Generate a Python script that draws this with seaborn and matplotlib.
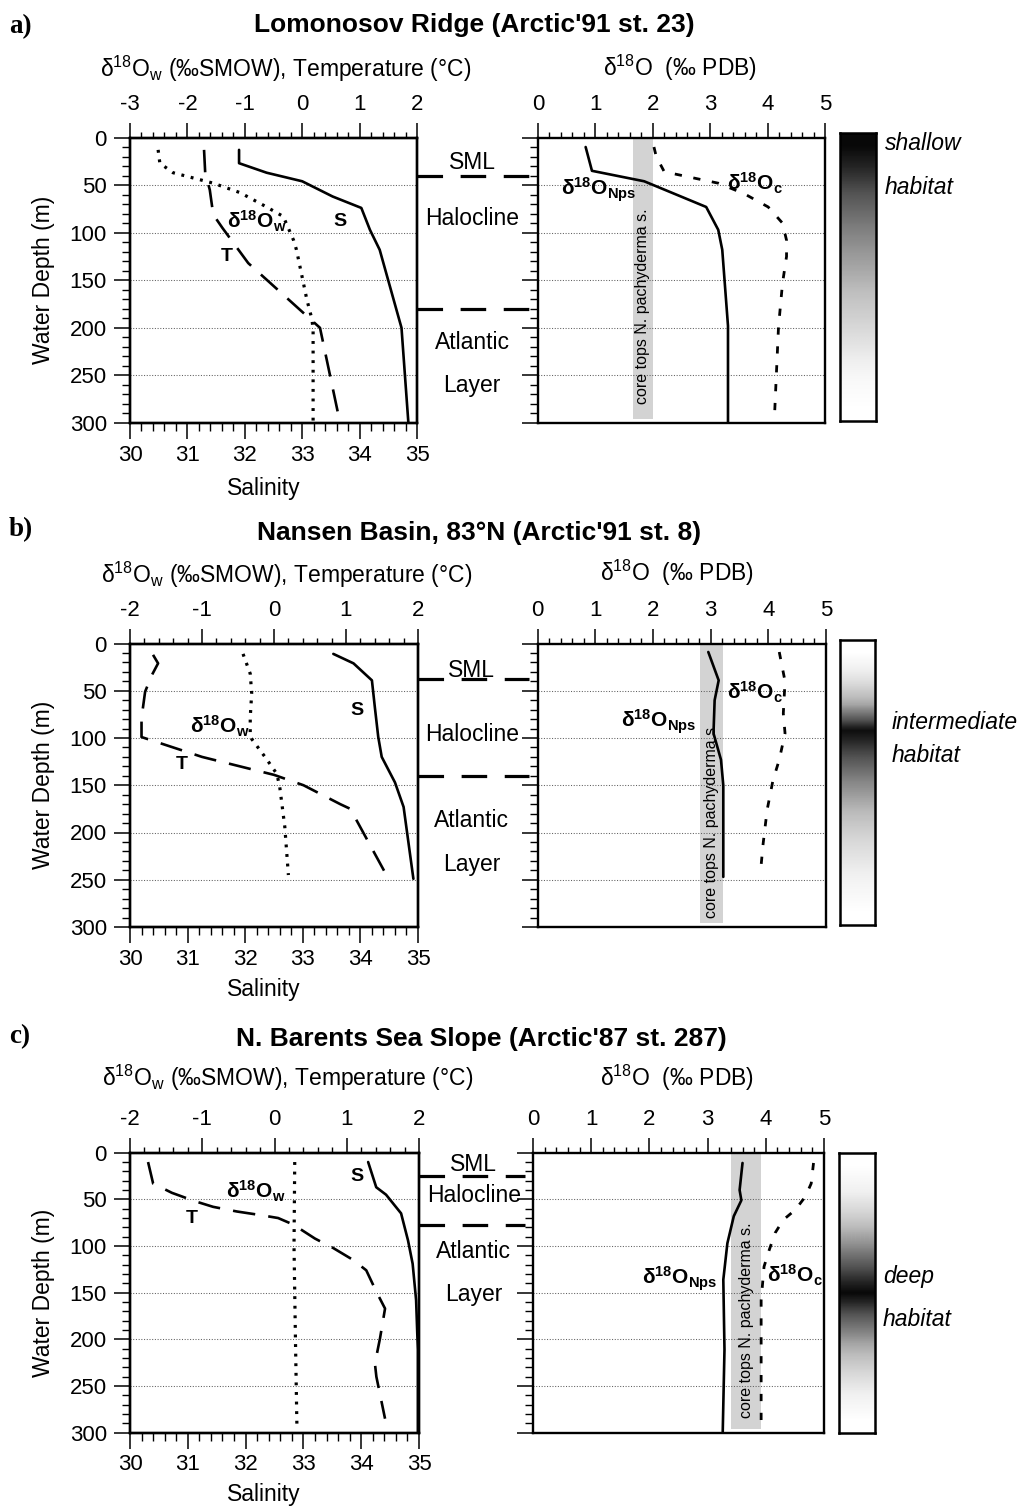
import numpy as np
import matplotlib
matplotlib.use("Agg")
import matplotlib.pyplot as plt
from matplotlib.ticker import MultipleLocator
import seaborn as sns

sns.set_theme(style="ticks")
plt.rcParams["font.family"] = ["Liberation Sans", "DejaVu Sans"]
plt.rcParams["mathtext.fontset"] = "custom"
plt.rcParams["mathtext.rm"] = "Liberation Sans"
plt.rcParams["mathtext.it"] = "Liberation Sans:italic"
plt.rcParams["mathtext.bf"] = "Liberation Sans:bold"
plt.rcParams["axes.unicode_minus"] = False
for key in ["text.color", "axes.labelcolor", "xtick.color", "ytick.color", "axes.edgecolor"]:
    plt.rcParams[key] = "black"

# ---------------- data ----------------
# a) Lomonosov Ridge (Arctic'91 st. 23)
a_sal_depth = [13, 27, 37, 46, 62, 74, 97, 118, 200, 300]
a_sal = [31.9, 31.9, 32.38, 33.0, 33.53, 34.03, 34.18, 34.35, 34.73, 34.85]
a_temp_depth = [13, 37, 55, 81, 95, 132, 181, 200, 300]
a_temp = [-1.71, -1.69, -1.61, -1.55, -1.39, -0.94, -0.04, 0.31, 0.66]
a_d18ow_depth = [13, 27, 37, 48, 58, 73, 83, 108, 118, 170, 191, 202, 300]
a_d18ow = [-2.51, -2.48, -2.25, -1.55, -1.08, -0.62, -0.33, -0.15, -0.10, 0.08, 0.17, 0.19, 0.19]
a_nps_depth = [10, 35, 46, 73, 97, 118, 198, 299]
a_nps = [0.83, 0.94, 1.85, 2.93, 3.14, 3.21, 3.31, 3.31]
a_oc_depth = [10, 20, 36, 48, 59, 73, 90, 108, 125, 153, 199, 293]
a_oc = [2.02, 2.06, 2.2, 3.14, 3.59, 4.01, 4.26, 4.33, 4.33, 4.26, 4.19, 4.12]
a_coretop = [1.65, 2.0]
a_bounds = [40, 180]
a_habitat = [0.97, 0.85, 0.72, 0.6, 0.5, 0.42, 0.33, 0.25, 0.15, 0.05, 0.0]

# b) Nansen Basin, 83°N (Arctic'91 st. 8)
b_sal_depth = [11, 21, 39, 67, 99, 120, 147, 173, 249]
b_sal = [33.53, 33.88, 34.2, 34.25, 34.31, 34.37, 34.6, 34.75, 34.92]
b_temp_depth = [12, 21, 34, 51, 79, 99, 120, 139, 150, 170, 175, 249]
b_temp = [-1.68, -1.61, -1.70, -1.79, -1.84, -1.84, -1.0, 0.0, 0.41, 0.92, 1.06, 1.59]
b_d18ow_depth = [11, 32, 53, 78, 99, 120, 138, 152, 194, 245]
b_d18ow = [-0.43, -0.33, -0.31, -0.33, -0.33, -0.125, 0.04, 0.08, 0.15, 0.2]
b_nps_depth = [9, 39, 60, 95, 123, 150, 194, 247]
b_nps = [2.96, 3.14, 3.07, 3.05, 3.18, 3.22, 3.22, 3.22]
b_oc_depth = [9, 40, 74, 95, 123, 145, 176, 212, 245]
b_oc = [4.19, 4.29, 4.26, 4.29, 4.19, 4.08, 3.98, 3.91, 3.86]
b_coretop = [2.82, 3.21]
b_bounds = [38, 140]
b_habitat = [0.0, 0.2, 0.45, 0.95, 0.75, 0.55, 0.4, 0.28, 0.18, 0.08, 0.0]

# c) N. Barents Sea Slope (Arctic'87 st. 287)
c_sal_depth = [10, 37, 45, 65, 94, 119, 158, 211, 299]
c_sal = [34.12, 34.26, 34.43, 34.69, 34.81, 34.89, 34.95, 34.98, 34.98]
c_temp_depth = [10, 33, 43, 52, 58, 63, 67, 70, 77, 92, 102, 115, 126, 149, 167, 199, 226, 240, 285]
c_temp = [-1.75, -1.68, -1.42, -1.10, -0.85, -0.52, -0.18, 0.05, 0.26, 0.56, 0.81, 1.09, 1.27,
          1.41, 1.53, 1.46, 1.39, 1.41, 1.53]
c_d18ow_depth = [10, 100, 200, 292]
c_d18ow = [0.28, 0.27, 0.29, 0.31]
c_nps_depth = [11, 40, 51, 68, 97, 136, 211, 299]
c_nps = [3.60, 3.55, 3.58, 3.45, 3.34, 3.27, 3.29, 3.26]
c_oc_depth = [11, 33, 47, 61, 72, 86, 104, 122, 158, 211, 290]
c_oc = [4.82, 4.78, 4.68, 4.51, 4.30, 4.16, 4.06, 3.97, 3.92, 3.92, 3.92]
c_coretop = [3.40, 3.92]
c_bounds = [25, 77]
c_habitat = [0.0, 0.12, 0.3, 0.5, 0.75, 0.97, 0.7, 0.45, 0.28, 0.12, 0.0]

layer_names = ["SML", "Halocline", "Atlantic", "Layer"]
titles = ["Lomonosov Ridge (Arctic'91 st. 23)",
          "Nansen Basin, 83°N (Arctic'91 st. 8)",
          "N. Barents Sea Slope (Arctic'87 st. 287)"]
panel_tags = ["a)", "b)", "c)"]
habitat_words = [["shallow", "habitat"], ["intermediate", "habitat"], ["deep", "habitat"]]
top_ranges = [(-3, 2), (-2, 2), (-2, 2)]

# ---------------- figure ----------------
W, H = 1023, 1508
fig = plt.figure(figsize=(W / 100, H / 100), dpi=100)


def rect(x0, x1, y0, y1):
    return [x0 / W, 1 - y1 / H, (x1 - x0) / W, (y1 - y0) / H]


def ftext(x, y, s, **kw):
    return fig.text(x / W, 1 - y / H, s, **kw)


SOLID = dict(lw=1.9, linestyle="-")
LONG_DASH = dict(lw=1.9, linestyle=(0, (8.5, 5)))
DOTTED = dict(lw=2.3, linestyle=(0, (0.9, 2.1)))
SHORT_DASH = dict(lw=2.0, linestyle=(0, (2.6, 4.2)))
TICK = 16
LABEL = 16.5
CURVE_LABEL = 15


def profile(ax, values, depth, style):
    sns.lineplot(x=np.asarray(values, float), y=np.asarray(depth, float), ax=ax,
                 orient="y", sort=False, estimator=None, errorbar=None,
                 color="black", legend=False, **style)


def depth_axis(ax, show_labels):
    ax.set_ylim(300, 0)
    ax.yaxis.set_major_locator(MultipleLocator(50))
    ax.yaxis.set_minor_locator(MultipleLocator(10))
    ax.tick_params(axis="y", which="major", direction="out", length=11.5, width=1.1,
                   pad=5.2, labelsize=TICK, left=True, right=False, labelleft=show_labels)
    ax.tick_params(axis="y", which="minor", direction="out", length=5.5, width=1.0,
                   left=True, right=False)
    ax.grid(axis="y", which="major", color="#606060", lw=0.75, linestyle=(0, (1, 1.6)))
    ax.grid(axis="x", visible=False)
    for sp in ax.spines.values():
        sp.set_linewidth(1.7)
        sp.set_color("black")
        sp.set_visible(True)
    ax.set_xlabel("")
    ax.set_ylabel("")


def top_axis(ax, lo, hi):
    ax.set_xlim(lo, hi)
    ax.xaxis.set_major_locator(MultipleLocator(1))
    ax.xaxis.set_minor_locator(MultipleLocator(0.2))
    ax.xaxis.tick_top()
    ax.tick_params(axis="x", which="major", direction="out", length=10.5, width=1.1,
                   pad=6.0, labelsize=TICK, top=True, bottom=False,
                   labeltop=True, labelbottom=False)
    ax.tick_params(axis="x", which="minor", direction="out", length=4.5, width=1.0,
                   top=True, bottom=False)
    ax.set_xlabel("")
    ax.set_ylabel("")


panels = [
    dict(sal=(a_sal, a_sal_depth), temp=(a_temp, a_temp_depth), d18ow=(a_d18ow, a_d18ow_depth),
         nps=(a_nps, a_nps_depth), oc=(a_oc, a_oc_depth), core=a_coretop, bounds=a_bounds,
         habitat=a_habitat),
    dict(sal=(b_sal, b_sal_depth), temp=(b_temp, b_temp_depth), d18ow=(b_d18ow, b_d18ow_depth),
         nps=(b_nps, b_nps_depth), oc=(b_oc, b_oc_depth), core=b_coretop, bounds=b_bounds,
         habitat=b_habitat),
    dict(sal=(c_sal, c_sal_depth), temp=(c_temp, c_temp_depth), d18ow=(c_d18ow, c_d18ow_depth),
         nps=(c_nps, c_nps_depth), oc=(c_oc, c_oc_depth), core=c_coretop, bounds=c_bounds,
         habitat=c_habitat),
]

# pixel layout of each panel
layout = [
    dict(box_y=(137.5, 423), left_x=(130, 417), right_x=(538, 825), cbar=(840, 876, 133, 421),
         title=(474, 32), tag_y=33, top_label_y=77, right_label_y=76, sal_y=488,
         left_top_cx=286, right_top_cx=680,
         s_lab=(33.66, 88), w_lab=(32.21, 88), t_lab=(31.69, 125),
         nps_lab=(1.71, 55), oc_lab=(3.30, 48), band_text_depth=280,
         mid_x=0.455, mid_depths=[26, 85, 215, 261],
         hab_x=885, hab_y=[144, 187]),
    dict(box_y=(643.5, 927), left_x=(130, 418), right_x=(537.5, 826), cbar=(840, 875, 640, 925),
         title=(479, 540), tag_y=536, top_label_y=583, right_label_y=581, sal_y=990,
         left_top_cx=287, right_top_cx=677,
         s_lab=(33.94, 71), w_lab=(31.55, 88), t_lab=(30.89, 128),
         nps_lab=(2.75, 83), oc_lab=(3.28, 52), band_text_depth=290,
         mid_x=0.45, mid_depths=[29, 96, 187, 234],
         hab_x=892, hab_y=[722, 756]),
    dict(box_y=(1152.7, 1432.7), left_x=(130, 419), right_x=(533, 824), cbar=(839, 875, 1152.7, 1432.7),
         title=(481, 1046), tag_y=1043, top_label_y=1086, right_label_y=1086, sal_y=1495,
         left_top_cx=288, right_top_cx=677,
         s_lab=(33.92, 26), w_lab=(32.18, 41), t_lab=(31.07, 70),
         nps_lab=(3.17, 135), oc_lab=(4.02, 131), band_text_depth=284,
         mid_x=0.48, mid_depths=[13, 46, 106, 152],
         hab_x=883, hab_y=[1277, 1320]),
]

w_label = r"$\mathrm{\delta^{18}O_{w}}$ (‰SMOW), Temperature (°C)"
pdb_label = r"$\mathrm{\delta^{18}O}$  (‰ PDB)"

for i, (p, L) in enumerate(zip(panels, layout)):
    y0, y1 = L["box_y"]

    # ---- left panel: salinity (bottom) / temperature & d18O water (top)
    ax = fig.add_axes(rect(L["left_x"][0], L["left_x"][1], y0, y1))
    profile(ax, *p["sal"], SOLID)
    ax.set_xlim(30, 35)
    ax.xaxis.set_major_locator(MultipleLocator(1))
    ax.xaxis.set_minor_locator(MultipleLocator(0.2))
    ax.tick_params(axis="x", which="major", direction="out", length=11.5, width=1.1, pad=4.0,
                   labelsize=TICK, top=False, bottom=True)
    ax.tick_params(axis="x", which="minor", direction="out", length=6, width=1.0,
                   top=False, bottom=True)
    depth_axis(ax, True)

    axt = ax.twiny()
    profile(axt, *p["temp"], LONG_DASH)
    profile(axt, *p["d18ow"], DOTTED)
    top_axis(axt, *top_ranges[i])
    axt.set_ylim(300, 0)
    for sp in axt.spines.values():
        sp.set_linewidth(1.7)

    ax.text(*L["s_lab"], "S", ha="center", va="center", fontsize=14, fontweight="bold")
    ax.text(*L["t_lab"], "T", ha="center", va="center", fontsize=14, fontweight="bold")
    ax.text(*L["w_lab"], r"$\mathbf{\delta^{18}O_{w}}$", ha="center", va="center",
            fontsize=CURVE_LABEL)

    # ---- right panel: d18O of N. pachyderma and equilibrium calcite
    axr = fig.add_axes(rect(L["right_x"][0], L["right_x"][1], y0, y1))
    axr.fill_betweenx([0, 296], p["core"][0], p["core"][1], color="#d3d3d3", lw=0, zorder=0.5)
    profile(axr, *p["nps"], SOLID)
    profile(axr, *p["oc"], SHORT_DASH)
    top_axis(axr, 0, 5)
    depth_axis(axr, False)
    axr.text(sum(p["core"]) / 2, L["band_text_depth"], "core tops N. pachyderma s.",
             rotation=90, rotation_mode="anchor", ha="left", va="center", fontsize=11.5)
    axr.text(*L["nps_lab"], r"$\mathbf{\delta^{18}O_{Nps}}$", ha="right", va="center",
             fontsize=CURVE_LABEL)
    axr.text(*L["oc_lab"], r"$\mathbf{\delta^{18}O_{c}}$", ha="left", va="center",
             fontsize=CURVE_LABEL)

    # ---- water-mass layers between the panels
    axm = fig.add_axes(rect(L["left_x"][1], L["right_x"][0], y0, y1))
    axm.set_xlim(0, 1)
    axm.set_ylim(300, 0)
    axm.axis("off")
    axm.hlines(p["bounds"], 0, 0.93, colors="black", lw=2.3, linestyles=[(0, (8, 5.5))])
    for name, d in zip(layer_names, L["mid_depths"]):
        axm.text(L["mid_x"], d, name, ha="center", va="center", fontsize=LABEL)

    # ---- habitat shading bar
    cx0, cx1, cy0, cy1 = L["cbar"]
    axc = fig.add_axes(rect(cx0, cx1, cy0, cy1))
    axc.imshow(np.asarray(p["habitat"])[:, None], cmap="Greys", vmin=0, vmax=1,
               aspect="auto", interpolation="bilinear")
    axc.set_xticks([])
    axc.set_yticks([])
    for sp in axc.spines.values():
        sp.set_linewidth(1.8)
        sp.set_color("black")
    for word, yy in zip(habitat_words[i], L["hab_y"]):
        ftext(L["hab_x"], yy, word, ha="left", va="center", fontsize=LABEL, style="italic")

    # ---- titles and axis captions
    ftext(L["title"][0], L["title"][1], titles[i], ha="center", va="baseline",
          fontsize=19, fontweight="bold")
    ftext(9, L["tag_y"], panel_tags[i], ha="left", va="baseline", fontsize=19.5,
          fontweight="bold", family="Liberation Serif")
    ftext(L["left_top_cx"], L["top_label_y"], w_label, ha="center", va="baseline", fontsize=LABEL)
    ftext(L["right_top_cx"], L["right_label_y"], pdb_label, ha="center", va="baseline", fontsize=LABEL)
    ftext(264, L["sal_y"], "Salinity", ha="center", va="center", fontsize=LABEL)
    ftext(44, (y0 + y1) / 2, "Water Depth (m)", ha="center", va="center",
          rotation=90, fontsize=LABEL)

fig.savefig("out.png", dpi=100, facecolor="white")
